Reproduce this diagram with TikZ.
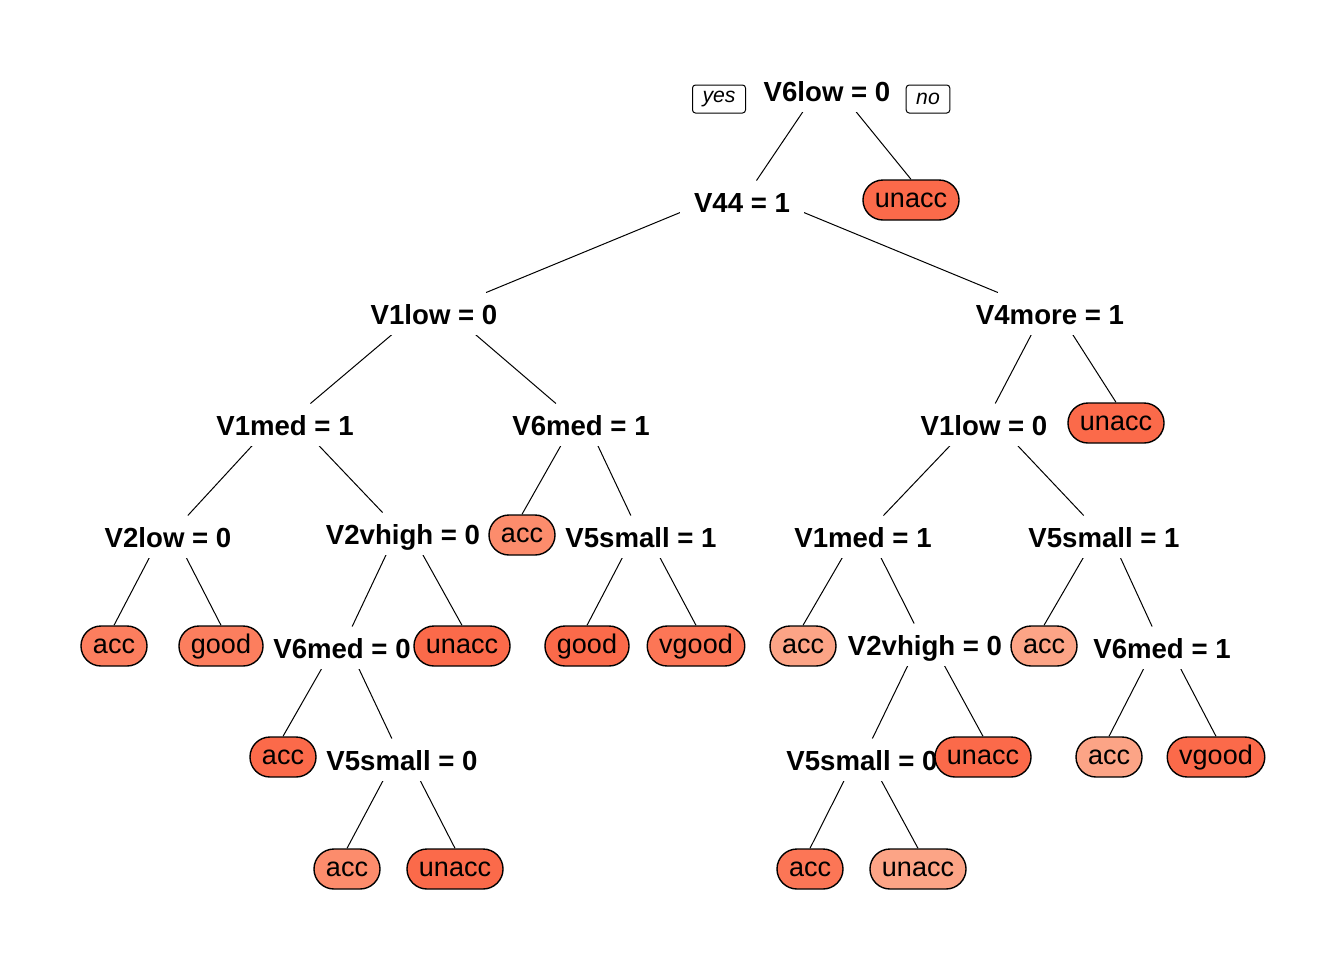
\documentclass[tikz,border=0pt]{standalone}
\usepackage{fontspec}
\setmainfont{Liberation Sans}
\usetikzlibrary{calc}
\pgfdeclarelayer{bg}
\pgfsetlayers{bg,main}

\definecolor{leafA}{HTML}{FB6A4A}
\definecolor{leafB}{HTML}{FC7656}
\definecolor{leafC}{HTML}{FC7E5E}
\definecolor{leafD}{HTML}{FC8C6C}
\definecolor{leafE}{HTML}{FCA486}

\begin{document}
\begin{tikzpicture}[x=0.5pt, y=-0.5pt, line width=0.5pt,
    split/.style={fill=white, inner xsep=7pt, inner ysep=0pt, minimum height=21pt,
      text height=10pt, text depth=0pt, font=\fontsize{13.8}{15}\selectfont\bfseries},
    leaf/.style={draw, fill=#1, line width=0.7pt, rounded corners=10pt, minimum height=20pt,
      inner xsep=6pt, inner ysep=0pt, text height=7pt, text depth=0pt,
      font=\fontsize{13.5}{15}\selectfont},
    tag/.style={draw, rounded corners=1.5pt, minimum height=14pt, inner xsep=5pt,
      inner ysep=0pt, font=\fontsize{10.6}{12}\selectfont\itshape},
    edge/.style={line width=0.5pt}]
  \useasboundingbox (0,0) rectangle (1344,960);
  % splits
  \node[split] (r) at (827,91) {V6low = 0};
  \node[split] (a) at (742,202) {V44 = 1};
  \node[split] (b) at (434,314) {V1low = 0};
  \node[split] (c) at (1050,314) {V4more = 1};
  \node[split] (d) at (285,425) {V1med = 1};
  \node[split] (e) at (581,425) {V6med = 1};
  \node[split] (f) at (984,425) {V1low = 0};
  \node[split] (g) at (168,537) {V2low = 0};
  \node[split] (h) at (403,534) {V2vhigh = 0};
  \node[split] (i) at (641,537) {V5small = 1};
  \node[split] (j) at (863,537) {V1med = 1};
  \node[split] (k) at (1104,537) {V5small = 1};
  \node[split] (l) at (342,648) {V6med = 0};
  \node[split] (m) at (925,645) {V2vhigh = 0};
  \node[split] (n) at (1162,648) {V6med = 1};
  \node[split] (o) at (402,760) {V5small = 0};
  \node[split] (p) at (862,760) {V5small = 0};
  % yes / no
  \node[tag] (yes) at (719,99) {yes};
  \node[tag] (no) at (928,99) {no};
  % leaves
  \node[leaf=leafA] (r2) at (911,200) {unacc};
  \node[leaf=leafA] (c2) at (1116,423) {unacc};
  \node[leaf=leafD] (e1) at (522,535) {acc};
  \node[leaf=leafC] (g1) at (114,646) {acc};
  \node[leaf=leafC] (g2) at (221,646) {good};
  \node[leaf=leafA] (h2) at (462,646) {unacc};
  \node[leaf=leafA] (i1) at (587,646) {good};
  \node[leaf=leafB] (i2) at (696,646) {vgood};
  \node[leaf=leafE] (j1) at (803,646) {acc};
  \node[leaf=leafE] (k1) at (1044,646) {acc};
  \node[leaf=leafA] (l1) at (283,757) {acc};
  \node[leaf=leafA] (m2) at (983,757) {unacc};
  \node[leaf=leafE] (n1) at (1109,757) {acc};
  \node[leaf=leafA] (n2) at (1216,757) {vgood};
  \node[leaf=leafD] (o1) at (347,869) {acc};
  \node[leaf=leafA] (o2) at (455,869) {unacc};
  \node[leaf=leafB] (p1) at (810,869) {acc};
  \node[leaf=leafE] (p2) at (918,869) {unacc};
  % branches, behind the split boxes
  \begin{pgfonlayer}{bg}
    \foreach \u/\v in {r/a, a/b, a/c, b/d, b/e, c/f, d/g, d/h, e/i,
        f/j, f/k, h/l, j/m, k/n, l/o, m/p}
      \draw[edge] ($(\u)+(0,-15)$) -- (\v);
    \foreach \u/\v in {r/r2, c/c2, e/e1, g/g1, g/g2, h/h2, i/i1, i/i2, j/j1, k/k1,
        l/l1, m/m2, n/n1, n/n2, o/o1, o/o2, p/p1, p/p2}
      \draw[edge] ($(\u)+(0,-15)$) -- (\v.north);
  \end{pgfonlayer}
\end{tikzpicture}
\end{document}
